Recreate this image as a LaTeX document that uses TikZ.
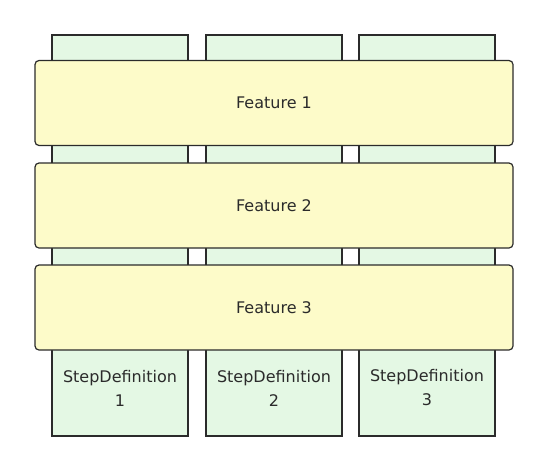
\documentclass[tikz,border=0pt]{standalone}
\usepackage{fontspec}
\setmainfont{DejaVu Sans}
\definecolor{featfill}{HTML}{FDFBC9}
\definecolor{stepfill}{HTML}{E4F8E4}
\definecolor{edge}{HTML}{2B2B2B}
\begin{document}
\begin{tikzpicture}[x=1pt,y=-1pt,
  stepcol/.style={draw=edge,fill=stepfill,line width=1.2pt,minimum width=136pt,minimum height=401pt,inner sep=0pt},
  feature/.style={draw=edge,fill=featfill,line width=1.2pt,rounded corners=4pt,minimum width=478pt,minimum height=85pt,inner sep=0pt,font=\fontsize{16}{18}\selectfont,text=edge},
  steplabel/.style={align=center,font=\fontsize{16}{24}\selectfont,text=edge}]
\useasboundingbox (0,0) rectangle (548,471);
\node[stepcol] (s1) at (120,235.5) {};
\node[stepcol] (s2) at (274,235.5) {};
\node[stepcol] (s3) at (427,235.5) {};
\node[feature] (f1) at (274,103) {Feature 1};
\node[feature] (f2) at (274,205.5) {Feature 2};
\node[feature] (f3) at (274,307.5) {Feature 3};
\node[steplabel] (t1) at (120,388) {StepDefinition\\1};
\node[steplabel] (t2) at (274,388) {StepDefinition\\2};
\node[steplabel] (t3) at (427,388) {StepDefinition\\3};
\end{tikzpicture}
\end{document}
